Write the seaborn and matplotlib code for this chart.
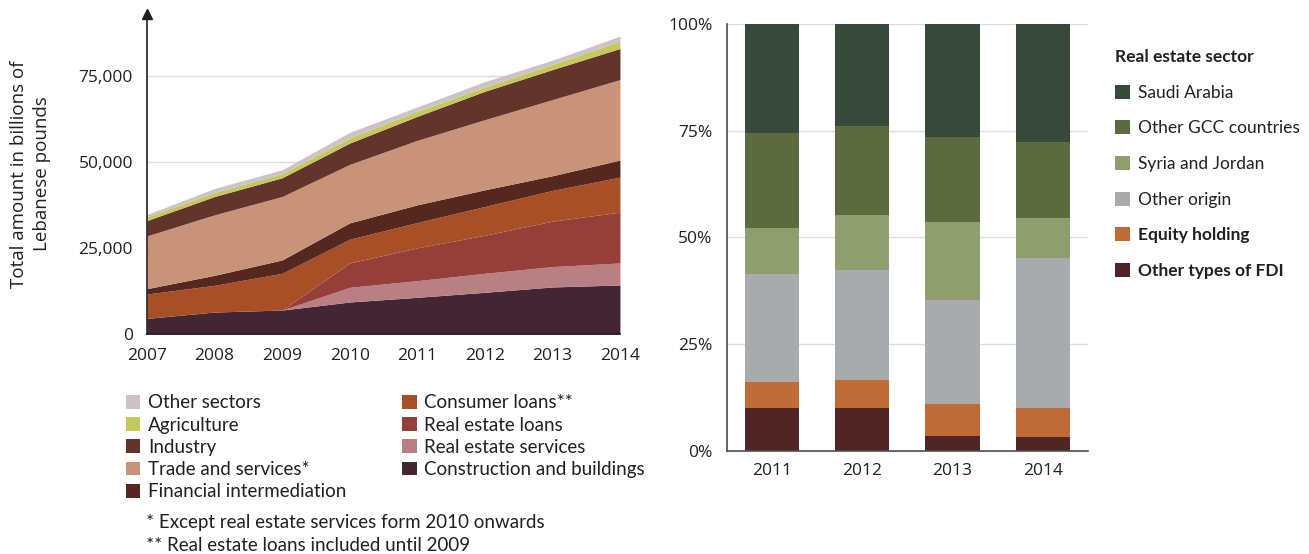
import numpy as np
import pandas as pd
import matplotlib
matplotlib.use("Agg")
import matplotlib.pyplot as plt
import seaborn as sns
from matplotlib.patches import Patch

# --- left chart: loans by sector (billions of LBP) ---
years = [2007, 2008, 2009, 2010, 2011, 2012, 2013, 2014]
construction = [4560, 6400, 6980, 9310, 10670, 12130, 13680, 14260]
re_services = [0, 0, 0, 4270, 4850, 5520, 5920, 6400]
re_loans = [0, 0, 0, 7080, 9510, 11060, 13190, 14740]
consumer = [7080, 7760, 10670, 6890, 7370, 8340, 8920, 10190]
financial = [1550, 2910, 3880, 4750, 5140, 4850, 4270, 4950]
trade = [15330, 17560, 18430, 16980, 18720, 20370, 22110, 23370]
industry = [4460, 5330, 5440, 6200, 6980, 8250, 8730, 9030]
agriculture = [1070, 1170, 1160, 1460, 1460, 1260, 1460, 2130]
other_sectors = [680, 1160, 1160, 1650, 1260, 1550, 1260, 1450]

# --- right chart: FDI shares (%) ---
fdi_years = ["2011", "2012", "2013", "2014"]
other_fdi = [9.9, 10.1, 3.4, 3.2]
equity = [6.2, 6.5, 7.5, 6.9]
other_origin = [25.3, 25.8, 24.4, 35.2]
syria_jordan = [10.8, 12.9, 18.3, 9.3]
other_gcc = [22.3, 20.9, 20.0, 17.8]
saudi = [25.5, 23.8, 26.4, 27.6]

sns.set_theme(style="white")
plt.rcParams["font.family"] = ["Open Sans", "DejaVu Sans"]
txt = "#231f20"
leg_font = ["Lato", "DejaVu Sans"]

fig = plt.figure(figsize=(13.09, 5.54), dpi=100)

# ---------------- left: stacked area ----------------
ax1 = fig.add_axes([0.1123, 0.397, 0.3613, 0.578])
left_series = [
    ("Construction and buildings", construction, "#432633"),
    ("Real estate services", re_services, "#b88082"),
    ("Real estate loans", re_loans, "#963e39"),
    ("Consumer loans**", consumer, "#a84f27"),
    ("Financial intermediation", financial, "#55281f"),
    ("Trade and services*", trade, "#c9937a"),
    ("Industry", industry, "#62352c"),
    ("Agriculture", agriculture, "#c5c85a"),
    ("Other sectors", other_sectors, "#cbc3c6"),
]
ax1.stackplot(years, *[s[1] for s in left_series],
              colors=[s[2] for s in left_series], linewidth=0, zorder=2)
ax1.set_xlim(2007, 2014)
ax1.set_ylim(0, 93000)
ax1.set_yticks([0, 25000, 50000, 75000])
ax1.set_yticklabels(["0", "25,000", "50,000", "75,000"])
ax1.set_xticks(years)
ax1.yaxis.grid(True, color="#dddddd", linewidth=1, zorder=0)
ax1.set_axisbelow(True)
for s in ["top", "right"]:
    ax1.spines[s].set_visible(False)
for s in ["left", "bottom"]:
    ax1.spines[s].set_color("#231f20")
    ax1.spines[s].set_linewidth(1.2)
ax1.tick_params(axis="both", direction="out", length=7, width=1,
                color="#231f20", labelsize=12.5, labelcolor=txt, pad=3)
ax1.plot([0], [1], marker="^", color="#231f20", markersize=7,
         transform=ax1.transAxes, clip_on=False)
ax1.set_ylabel("Total amount in billions of\nLebanese pounds", fontsize=13.5,
               color=txt, labelpad=20, linespacing=1.35)

handles = [Patch(facecolor=c, edgecolor="none", label=n)
           for n, v, c in left_series[::-1]]
leg1 = fig.legend(handles=handles, ncol=2, loc="upper left",
                  bbox_to_anchor=(0.0893, 0.305), frameon=False,
                  prop={"family": leg_font, "size": 13.5},
                  handlelength=0.75, handleheight=0.75, handletextpad=0.4,
                  labelspacing=0.28, columnspacing=3.0, borderpad=0)
for t in leg1.get_texts():
    t.set_color(txt)
fig.text(0.1115, 0.057, "* Except real estate services form 2010 onwards",
         fontsize=13.5, color=txt, family=leg_font, va="center")
fig.text(0.1115, 0.015, "** Real estate loans included until 2009",
         fontsize=13.5, color=txt, family=leg_font, va="center")

# ---------------- right: stacked 100% bars ----------------
ax2 = fig.add_axes([0.5551, 0.1865, 0.276, 0.7697])
right_series = [
    ("Other types of FDI", other_fdi, "#502526", True),
    ("Equity holding", equity, "#bf6b37", True),
    ("Other origin", other_origin, "#a9aaad", False),
    ("Syria and Jordan", syria_jordan, "#8e9e6e", False),
    ("Other GCC countries", other_gcc, "#5b6b3f", False),
    ("Saudi Arabia", saudi, "#36493a", False),
]
df = pd.DataFrame({n: v for n, v, c, b in right_series}, index=fdi_years)
cum = df.cumsum(axis=1)
for n, v, c, b in right_series[::-1]:
    sns.barplot(x=fdi_years, y=cum[n].values, color=c, saturation=1,
                width=0.6, ax=ax2, zorder=2, linewidth=0)
ax2.set_xlim(-0.5, 3.5)
ax2.set_ylim(0, 100)
ax2.set_yticks([0, 25, 50, 75, 100])
ax2.set_yticklabels(["0%", "25%", "50%", "75%", "100%"])
ax2.yaxis.grid(True, color="#dddddd", linewidth=1, zorder=0)
ax2.set_axisbelow(True)
for s in ["top", "right"]:
    ax2.spines[s].set_visible(False)
for s in ["left", "bottom"]:
    ax2.spines[s].set_color("#4d4d4d")
    ax2.spines[s].set_linewidth(1.2)
ax2.tick_params(axis="y", direction="out", length=7, width=1, color="#4d4d4d",
                labelsize=12.5, labelcolor=txt, pad=3)
ax2.tick_params(axis="x", length=0, labelsize=12.5, labelcolor=txt, pad=9)

handles2 = [Patch(facecolor=c, edgecolor="none", label=n)
            for n, v, c, b in right_series[::-1]]
leg2 = fig.legend(handles=handles2, loc="upper left",
                  bbox_to_anchor=(0.8455, 0.927), frameon=False,
                  title="Real estate sector", alignment="left",
                  prop={"family": leg_font, "size": 12.5},
                  handlelength=0.85, handleheight=0.85, handletextpad=0.45,
                  labelspacing=1.13, borderpad=0)
leg2.get_title().set_fontweight("bold")
leg2.get_title().set_fontsize(12.5)
leg2.get_title().set_family(leg_font)
leg2.get_title().set_color(txt)
for t, (n, v, c, b) in zip(leg2.get_texts(), right_series[::-1]):
    t.set_color(txt)
    if b:
        t.set_fontweight("bold")

fig.savefig("out.png", dpi=100)
